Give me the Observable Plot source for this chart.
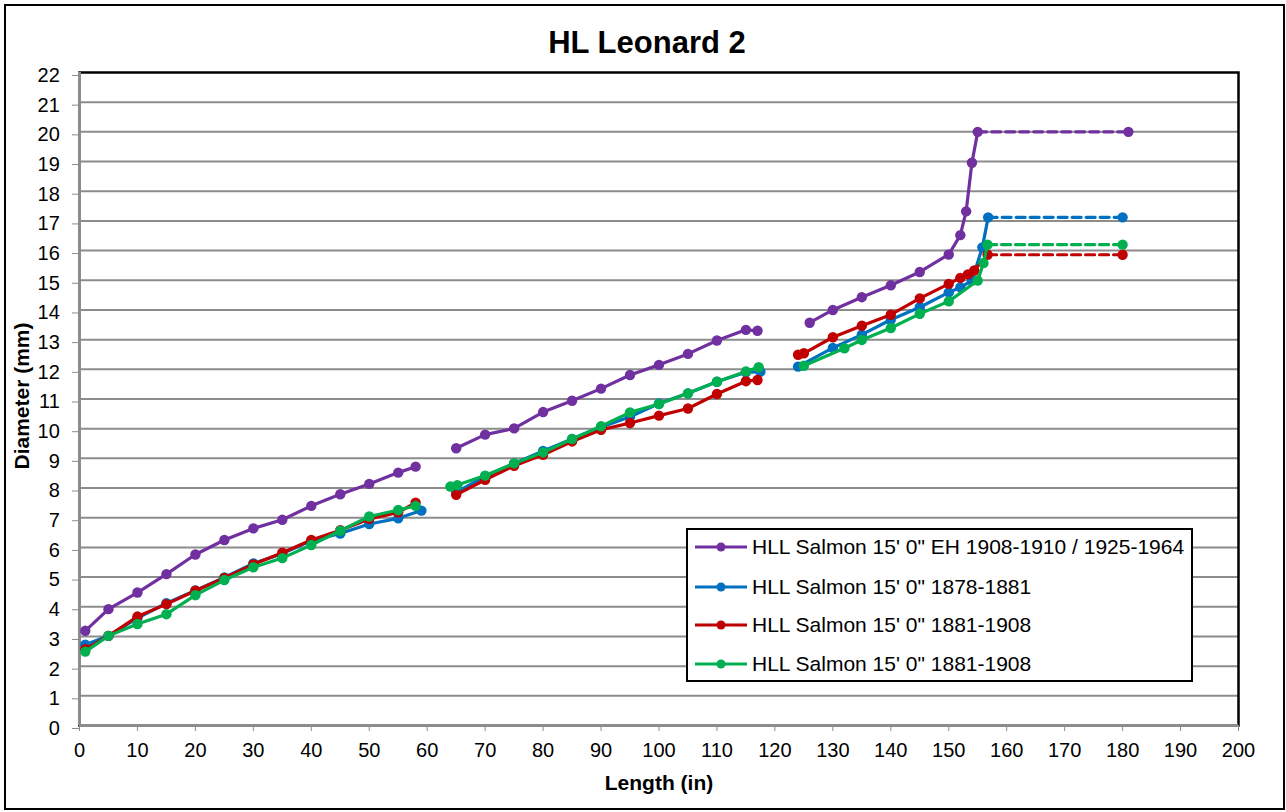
<!DOCTYPE html>
<html>
<head>
<meta charset="utf-8">
<script src="https://cdn.jsdelivr.net/npm/d3@7"></script>
<script src="https://cdn.jsdelivr.net/npm/@observablehq/plot@0.6"></script>
<style>
  html, body { margin: 0; padding: 0; background: #fff; }
  #wrap { position: relative; width: 1286px; height: 812px; font-family: "Liberation Sans", Arial, sans-serif; color: #000; overflow: hidden; }
  #outer { position: absolute; left: 4px; top: 4px; width: 1277px; height: 802px; border: 2px solid #000; }
  #chart { position: absolute; left: 0; top: 0; }
  #title { position: absolute; left: 397px; width: 500px; top: 27px; text-align: center; font-weight: bold; font-size: 31px; line-height: 31px; white-space: nowrap; }
  #xlabel { position: absolute; left: 509px; width: 300px; top: 772px; text-align: center; font-weight: bold; font-size: 21px; line-height: 21px; white-space: nowrap; }
  #ylabel { position: absolute; left: 22px; top: 396px; transform: translate(-50%, -50%) rotate(-90deg); font-weight: bold; font-size: 21px; line-height: 22px; white-space: nowrap; }
  #legend { position: absolute; left: 686px; top: 528px; width: 503px; height: 150px; border: 2px solid #000; background: #fff; }
  .lrow { position: absolute; left: 694px; height: 30px; display: flex; align-items: center; font-size: 21px; white-space: nowrap; }
  .lrow svg { margin-right: 4px; }
  g[aria-label="x-axis tick"] path, g[aria-label="y-axis tick"] path { stroke: #8c8c8c; }
</style>
</head>
<body>
<div id="wrap">
  <div id="outer"></div>
  <div id="chart"></div>
  <div id="title"></div>
  <div id="xlabel"></div>
  <div id="ylabel"></div>
  <div id="legend"></div>
</div>
<script>
// ---- Data ----
const chartTitle = "HL Leonard 2";
const xTitle = "Length (in)";
const yTitle = "Diameter (mm)";
const seriesNames = [
  "HLL Salmon 15' 0\" EH 1908-1910 / 1925-1964",
  "HLL Salmon 15' 0\" 1878-1881",
  "HLL Salmon 15' 0\" 1881-1908",
  "HLL Salmon 15' 0\" 1881-1908 "
];
const seriesColors = ["#7030A0", "#0070C0", "#C00000", "#00B050"];

const xTicks = d3.range(0, 201, 10);
const yTicks = d3.range(0, 23, 1);

// null values break the line (the three rod sections)
const purpleX = [1,5,10,15,20,25,30,35,40,45,50,55,58, null, 65,70,75,80,85,90,95,100,105,110,115,117, null, 126,130,135,140,145,150,152,153,154,155];
const purpleY = [3.19,3.92,4.48,5.10,5.76,6.25,6.64,6.93,7.40,7.79,8.14,8.52,8.72, null, 9.34,9.80,10.01,10.56,10.94,11.35,11.81,12.15,12.52,12.97,13.33,13.30, null, 13.57,14.00,14.43,14.83,15.28,15.87,16.52,17.32,18.96,20.00];

const blueX = [1,5,10,15,20,25,30,35,40,45,50,55,59, null, 65,70,75,80,85,90,95,100,105,110,115,117.5, null, 124,130,135,140,145,150,152,154,155.8,156.8];
const blueY = [2.72,3.02,3.62,4.12,4.55,4.99,5.46,5.79,6.22,6.47,6.79,6.98,7.24, null, 7.85,8.40,8.83,9.25,9.65,10.05,10.40,10.85,11.19,11.58,11.90,11.92, null, 12.09,12.72,13.17,13.67,14.09,14.59,14.76,14.99,16.11,17.12];

const redX = [1,5,10,15,20,25,30,35,40,45,50,55,58, null, 65,70,75,80,85,90,95,100,105,110,115,117, null, 124,125,130,135,140,145,150,152,153.3,154.4,156.7];
const redY = [2.57,3.02,3.67,4.09,4.54,4.97,5.43,5.82,6.25,6.58,6.96,7.18,7.51, null, 7.77,8.28,8.75,9.12,9.57,9.96,10.19,10.44,10.68,11.17,11.60,11.64, null, 12.49,12.54,13.08,13.47,13.84,14.39,14.88,15.08,15.20,15.33,15.86];

const greenX = [1,5,10,15,20,25,30,35,40,45,50,55,58, null, 64,65.2,70,75,80,85,90,95,100,105,110,115,117.2, null, 125,132,135,140,145,150,155,156,156.7];
const greenY = [2.49,3.02,3.42,3.75,4.39,4.90,5.33,5.64,6.08,6.56,7.04,7.26,7.40, null, 8.05,8.10,8.42,8.83,9.20,9.65,10.08,10.55,10.83,11.19,11.58,11.93,12.07, null, 12.12,12.71,12.99,13.39,13.87,14.29,14.99,15.58,16.20];

// dashed extensions (tip end to total length)
const purpleDashX = [155, 181];   const purpleDashY = [20.00, 20.00];
const blueDashX   = [156.8, 180]; const blueDashY   = [17.12, 17.12];
const redDashX    = [156.7, 180]; const redDashY    = [15.86, 15.86];
const greenDashX  = [156.7, 180]; const greenDashY  = [16.20, 16.20];

// ---- Build tables ----
const solid = [[purpleX, purpleY], [blueX, blueY], [redX, redY], [greenX, greenY]];
const dashed = [[purpleDashX, purpleDashY], [blueDashX, blueDashY], [redDashX, redDashY], [greenDashX, greenDashY]];
const toRows = ([xs, ys], i) => xs.map((x, j) => ({series: seriesNames[i], x, y: ys[j]}));

const marks = [
  Plot.ruleY(yTicks.filter(d => d > 0 && d < 22), {stroke: "#8c8c8c", strokeWidth: 2}),
  Plot.frame({stroke: "#000", strokeWidth: 2.5}),
  Plot.ruleX([0], {stroke: "#8c8c8c", strokeWidth: 3}),
  Plot.ruleY([0], {stroke: "#8c8c8c", strokeWidth: 3}),
  Plot.axisX({ticks: xTicks, tickSize: 6, tickPadding: 11, fontSize: 20, label: null, tickFormat: d => String(d)}),
  Plot.axisY({ticks: yTicks, tickSize: 7, tickPadding: 12.7, fontSize: 20, label: null, dy: 3, tickFormat: d => String(d)})
];
solid.forEach((s, i) => {
  const rows = toRows(s, i);
  const drows = toRows(dashed[i], i);
  marks.push(Plot.line(rows, {x: "x", y: "y", stroke: seriesColors[i], strokeWidth: 3.2, strokeLinejoin: "round", strokeLinecap: "round"}));
  marks.push(Plot.line(drows, {x: "x", y: "y", stroke: seriesColors[i], strokeWidth: 3.2, strokeDasharray: "9,5"}));
  marks.push(Plot.dot(rows, {x: "x", y: "y", fill: seriesColors[i], r: 5.2}));
  marks.push(Plot.dot(drows.slice(-1), {x: "x", y: "y", fill: seriesColors[i], r: 5.2}));
});

const plot = Plot.plot({
  width: 1286,
  height: 812,
  marginLeft: 79,
  marginRight: 48,
  marginTop: 72,
  marginBottom: 87,
  style: {fontFamily: "'Liberation Sans', Arial, sans-serif", fontSize: "20px", color: "#000", background: "transparent", overflow: "visible"},
  x: {domain: [0, 200]},
  y: {domain: [0, 22]},
  marks
});
document.getElementById("chart").appendChild(plot);

document.getElementById("title").textContent = chartTitle;
document.getElementById("xlabel").textContent = xTitle;
document.getElementById("ylabel").textContent = yTitle;

// ---- Legend ----
const rowY = [546.7, 586.7, 625.3, 663.7];
const wrap = document.getElementById("wrap");
seriesNames.forEach((name, i) => {
  const row = document.createElement("div");
  row.className = "lrow";
  row.style.top = (rowY[i] - 15) + "px";
  const ns = "http://www.w3.org/2000/svg";
  const sw = document.createElementNS(ns, "svg");
  sw.setAttribute("width", 54); sw.setAttribute("height", 14);
  const ln = document.createElementNS(ns, "line");
  ln.setAttribute("x1", 1); ln.setAttribute("x2", 53); ln.setAttribute("y1", 7); ln.setAttribute("y2", 7);
  ln.setAttribute("stroke", seriesColors[i]); ln.setAttribute("stroke-width", 3);
  const c = document.createElementNS(ns, "circle");
  c.setAttribute("cx", 27); c.setAttribute("cy", 7); c.setAttribute("r", 4.5); c.setAttribute("fill", seriesColors[i]);
  sw.appendChild(ln); sw.appendChild(c);
  const t = document.createElement("span");
  t.textContent = name.trim();
  row.appendChild(sw); row.appendChild(t);
  wrap.appendChild(row);
});
</script>
</body>
</html>
